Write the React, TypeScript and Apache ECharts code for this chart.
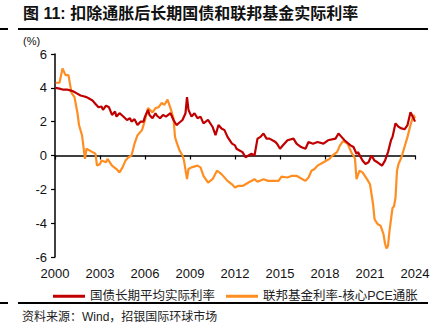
import React, { useEffect, useRef } from "react";
import * as echarts from "echarts";

// 国债长期平均实际利率 (year, %)
const redYears = [
  2000.05, 2000.3, 2000.5, 2000.8, 2001.0, 2001.2, 2001.4, 2001.7, 2001.9, 2002.1,
  2002.3, 2002.5, 2002.7, 2002.9, 2003.1, 2003.2, 2003.4, 2003.6, 2003.8, 2004.0,
  2004.1, 2004.3, 2004.5, 2004.8, 2005.0, 2005.1, 2005.3, 2005.5, 2005.7, 2005.9,
  2006.0, 2006.2, 2006.3, 2006.5, 2006.7, 2006.8, 2007.0, 2007.2, 2007.4, 2007.7,
  2007.9, 2008.1, 2008.3, 2008.5, 2008.7, 2008.8, 2008.9, 2009.1, 2009.3, 2009.5,
  2009.7, 2009.9, 2010.2, 2010.5, 2010.7, 2010.9, 2011.1, 2011.3, 2011.5, 2011.8,
  2012.0, 2012.1, 2012.3, 2012.5, 2012.7, 2012.9, 2013.1, 2013.3, 2013.5, 2013.7,
  2013.9, 2014.1, 2014.3, 2014.7, 2014.8, 2015.0, 2015.2, 2015.5, 2015.9, 2016.1,
  2016.4, 2016.7, 2016.9, 2017.2, 2017.5, 2017.9, 2018.2, 2018.7, 2018.9, 2019.1,
  2019.3, 2019.7, 2019.9, 2020.1, 2020.2, 2020.5, 2020.7, 2020.9, 2021.1, 2021.3,
  2021.5, 2021.8, 2022.0, 2022.2, 2022.4, 2022.5, 2022.7, 2022.9, 2023.1, 2023.3,
  2023.5, 2023.7, 2023.9, 2024.0,
];
const redValues = [
  4.0, 3.95, 3.9, 3.9, 3.85, 3.8, 3.7, 3.55, 3.5, 3.45,
  3.35, 3.25, 3.05, 2.85, 2.9, 2.7, 2.95, 2.85, 2.4, 2.6,
  2.3, 2.5, 2.35, 2.1, 2.2, 2.0, 2.15, 1.8, 2.0, 2.0,
  2.3, 2.7, 2.4, 2.2, 2.5, 2.35, 2.2, 2.4, 2.3, 2.5,
  2.1, 1.8, 1.95, 2.1, 2.5, 3.45, 2.7, 2.3, 2.5, 2.2,
  2.3, 1.9, 2.1, 1.7, 1.2, 1.8, 1.6, 1.5, 1.1, 0.7,
  0.6, 0.4, 0.3, 0.2, -0.1, 0.0, 0.1, 0.0, 1.0, 1.1,
  1.3, 1.0, 1.0, 0.8, 0.7, 0.4, 0.6, 0.9, 1.0, 0.7,
  0.5, 0.4, 0.8, 0.7, 0.8, 0.7, 0.9, 1.0, 1.3, 1.1,
  0.9, 0.6, 0.5, 0.1, 0.2, -0.3, -0.5, -0.4, 0.0, -0.3,
  -0.4, -0.6, -0.3, 0.2, 0.9, 1.1, 1.9, 1.7, 1.6, 1.55,
  1.8, 2.55, 2.2, 2.0,
];

// 联邦基金利率-核心PCE通胀 (year, %)
const orangeYears = [
  2000.05, 2000.3, 2000.5, 2000.7, 2000.9, 2001.1, 2001.3, 2001.5, 2001.6, 2001.8,
  2001.9, 2002.0, 2002.1, 2002.5, 2002.7, 2002.8, 2003.0, 2003.1, 2003.4, 2003.5,
  2003.8, 2004.1, 2004.3, 2004.5, 2004.7, 2004.9, 2005.1, 2005.3, 2005.5, 2005.8,
  2006.0, 2006.2, 2006.5, 2006.7, 2006.9, 2007.1, 2007.3, 2007.5, 2007.7, 2007.9,
  2008.0, 2008.1, 2008.3, 2008.5, 2008.6, 2008.8, 2008.9, 2009.1, 2009.5, 2009.7,
  2009.9, 2010.2, 2010.5, 2010.8, 2011.1, 2011.5, 2011.8, 2012.0, 2012.2, 2012.5,
  2012.9, 2013.3, 2013.5, 2013.9, 2014.2, 2014.5, 2014.9, 2015.1, 2015.5, 2015.8,
  2016.1, 2016.5, 2016.7, 2016.9, 2017.1, 2017.3, 2017.5, 2017.9, 2018.1, 2018.3,
  2018.5, 2018.8, 2019.0, 2019.2, 2019.5, 2019.8, 2019.9, 2020.0, 2020.1, 2020.3,
  2020.5, 2020.8, 2021.0, 2021.2, 2021.3, 2021.5, 2021.7, 2021.9, 2022.0, 2022.1,
  2022.2, 2022.3, 2022.5, 2022.6, 2022.7, 2022.8, 2022.9, 2023.1, 2023.3, 2023.5,
  2023.7, 2023.9, 2024.0,
];
const orangeValues = [
  4.3, 4.3, 5.15, 4.75, 4.75, 3.7, 3.45, 2.5, 1.8, 1.2,
  0.5, -0.2, 0.4, 0.2, 0.1, -0.6, -0.5, -0.3, -0.4, -0.2,
  -0.6, -0.8, -1.0, -0.7, -0.3, -0.1, 0.0, 0.7, 1.2, 1.5,
  2.1, 2.8, 2.55, 2.8, 2.85, 3.1, 3.0, 3.3, 2.8, 2.2,
  1.1, 0.8, 0.3, 0.0, -0.3, -1.4, -0.8, -0.7, -0.6, -0.7,
  -1.2, -1.6, -1.4, -0.9, -1.1, -1.5, -1.7, -1.9, -1.8, -1.8,
  -1.6, -1.4, -1.55, -1.4, -1.5, -1.5, -1.5, -1.25, -1.3, -1.2,
  -1.2, -1.4, -1.5, -1.3, -0.9, -0.8, -0.6, -0.4, -0.3, -0.2,
  0.0, 0.2, 0.6, 0.85, 0.7, 0.1, 0.0, -0.2, -1.4, -0.9,
  -1.0, -1.4, -1.7, -2.85, -3.75, -4.05, -4.15, -4.65, -5.2, -5.5,
  -5.35, -4.45, -3.1, -3.0, -2.5, -0.9, -0.5, -0.1, 0.5, 1.1,
  1.8, 2.4, 2.2,
];

const seriesNames = ["国债长期平均实际利率", "联邦基金利率-核心PCE通胀"];
const titleText = "图 11: 扣除通胀后长期国债和联邦基金实际利率";
const sourceText = "资料来源：Wind，招银国际环球市场";
const yearMin = 2000;
const yearMax = 2024;
const yearStep = 3;
const yMin = -6;
const yMax = 6;
const yStep = 2;

const RED = "#C00000";
const ORANGE = "#FF8E22";
const CJK = "'Liberation Sans', 'Noto Sans CJK SC', sans-serif";
const NUM = "'Liberation Sans', Arial, sans-serif";

export default function App() {
  const ref = useRef<HTMLDivElement>(null);
  useEffect(() => {
    if (!ref.current) return;
    const chart = echarts.init(ref.current, undefined, { renderer: "svg" });
    const redData = redYears.map((x, i) => [x, redValues[i]]);
    const orangeData = orangeYears.map((x, i) => [x, orangeValues[i]]);
    chart.setOption({
      animation: false,
      backgroundColor: "#fff",
      grid: { left: 55, right: 30, top: 54, bottom: 73, containLabel: false },
      legend: {
        left: 48,
        top: 285,
        itemWidth: 32,
        itemHeight: 3,
        itemGap: 11,
        icon: "rect",
        textStyle: { fontFamily: CJK, fontSize: 12.5, color: "#222" },
        data: seriesNames,
      },
      xAxis: [
        {
          type: "value",
          min: yearMin,
          max: yearMax,
          interval: yearStep,
          position: "bottom",
          axisLine: { show: true, onZero: true, lineStyle: { color: "#000", width: 1.5 } },
          axisTick: { show: true, length: 4, lineStyle: { color: "#000", width: 1.2 } },
          axisLabel: { show: false },
          splitLine: { show: false },
        },
        {
          type: "value",
          min: yearMin,
          max: yearMax,
          interval: yearStep,
          position: "bottom",
          axisLine: { show: false, onZero: false },
          axisTick: { show: false },
          axisLabel: {
            show: true,
            margin: 10,
            fontFamily: NUM,
            fontSize: 13,
            color: "#111",
            formatter: (v: number) => String(v),
          },
          splitLine: { show: false },
        },
      ],
      yAxis: {
        type: "value",
        min: yMin,
        max: yMax,
        interval: yStep,
        axisLine: { show: true, onZero: false, lineStyle: { color: "#000", width: 1.5 } },
        axisTick: { show: true, length: 4, lineStyle: { color: "#000", width: 1.2 } },
        axisLabel: { margin: 8, fontFamily: NUM, fontSize: 13, color: "#111" },
        splitLine: { show: false },
      },
      series: [
        {
          name: seriesNames[0],
          type: "line",
          xAxisIndex: 0,
          data: redData,
          showSymbol: false,
          symbol: "none",
          lineStyle: { color: RED, width: 2.2 },
          itemStyle: { color: RED },
          z: 3,
        },
        {
          name: seriesNames[1],
          type: "line",
          xAxisIndex: 0,
          data: orangeData,
          showSymbol: false,
          symbol: "none",
          lineStyle: { color: ORANGE, width: 2.2 },
          itemStyle: { color: ORANGE },
          z: 2,
        },
      ],
      graphic: [
        {
          type: "text",
          left: 23,
          top: 5,
          style: { text: titleText, fontFamily: CJK, fontSize: 16, fontWeight: "bold", fill: "#111" },
        },
        { type: "line", shape: { x1: 0, y1: 29, x2: 8, y2: 29 }, style: { stroke: "#000", lineWidth: 2 } },
        { type: "line", shape: { x1: 18, y1: 29, x2: 428, y2: 29 }, style: { stroke: "#000", lineWidth: 2 } },
        {
          type: "text",
          left: 23,
          top: 35,
          style: { text: "(%)", fontFamily: NUM, fontSize: 11, fill: "#111" },
        },
        { type: "line", shape: { x1: 0, y1: 303, x2: 8, y2: 303 }, style: { stroke: "#000", lineWidth: 2 } },
        { type: "line", shape: { x1: 18, y1: 303, x2: 428, y2: 303 }, style: { stroke: "#000", lineWidth: 2 } },
        {
          type: "text",
          left: 22,
          top: 311,
          style: { text: sourceText, fontFamily: CJK, fontSize: 12, fill: "#222" },
        },
      ],
    });
    return () => chart.dispose();
  }, []);
  return (
    <div
      ref={ref}
      style={{ position: "fixed", left: 0, top: 0, width: 445, height: 330, background: "#fff" }}
    />
  );
}
